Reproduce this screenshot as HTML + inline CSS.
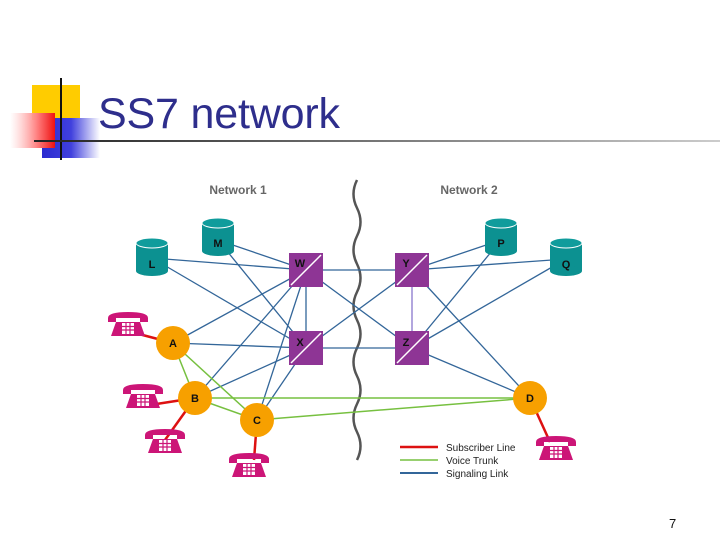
<!DOCTYPE html>
<html><head><meta charset="utf-8"><style>
html,body{margin:0;padding:0;background:#fff;width:720px;height:540px;overflow:hidden}
</style></head><body>
<svg width="720" height="540" xmlns="http://www.w3.org/2000/svg" font-family="Liberation Sans, sans-serif">
<defs>
<linearGradient id="red" x1="0" x2="1"><stop offset="0" stop-color="#fff" stop-opacity="0.6"/><stop offset="0.6" stop-color="#ff8080"/><stop offset="1" stop-color="#ee1111"/></linearGradient>
<linearGradient id="blue" x1="0" x2="1"><stop offset="0" stop-color="#2b2bd0"/><stop offset="0.5" stop-color="#4040dd"/><stop offset="1" stop-color="#fff"/></linearGradient>
<linearGradient id="hl" x1="0" x2="1"><stop offset="0" stop-color="#222"/><stop offset="1" stop-color="#ccc"/></linearGradient>
<g id="ph">
<path d="M-20,-8 Q-20,-14 0,-14 Q20,-14 20,-8 L20,-4 L12,-4 L12,-8 L-12,-8 L-12,-4 L-20,-4 Z" fill="#cc1577"/>
<path d="M-12,-4 L12,-4 L17,10 L-17,10 Z" fill="#cc1577"/>
<rect x="-6" y="-3" width="12" height="11" fill="#fff"/>
<path d="M-6,0.5H6M-6,4H6M-2,-3V8M2,-3V8" stroke="#cc1577" stroke-width="1.2"/>
</g>
<g id="cyl">
<rect x="-16" y="-14" width="32" height="28" fill="#0c9191"/>
<ellipse cx="0" cy="14" rx="16" ry="5" fill="#0c9191"/>
<ellipse cx="0" cy="-14" rx="16" ry="5" fill="#109c9c" stroke="#fff" stroke-width="1"/>
</g>
<g id="sq">
<rect x="-17" y="-17" width="34" height="34" fill="#8e3595"/>
<line x1="-15" y1="15" x2="15" y2="-15" stroke="#fff" stroke-width="1.5"/>
</g>
</defs>
<rect x="32" y="85" width="48" height="35" fill="#ffcc00"/>
<rect x="42" y="118" width="58" height="40" fill="url(#blue)"/>
<rect x="10" y="113" width="45" height="35" fill="url(#red)"/>
<line x1="61" y1="78" x2="61" y2="160" stroke="#111" stroke-width="2"/>
<rect x="34" y="140" width="686" height="2" fill="url(#hl)"/>
<text x="98" y="128" font-size="43" fill="#2e2e8c" textLength="242">SS7 network</text>

<text x="238" y="194" font-size="12" font-weight="bold" fill="#666" text-anchor="middle">Network 1</text>
<text x="469" y="194" font-size="12" font-weight="bold" fill="#666" text-anchor="middle">Network 2</text>
<path d="M357,180 q-7,14 0,28 q7,14 0,28 q-7,14 0,28 q7,14 0,28 q-7,14 0,28 q7,14 0,28 q-7,14 0,28 q7,14 0,28 q-7,14 0,28 q7,14 0,28" fill="none" stroke="#555" stroke-width="2.5"/>

<g stroke="#336699" stroke-width="1.3" fill="none">
<line x1="152" y1="258" x2="306" y2="270"/><line x1="152" y1="258" x2="306" y2="348"/>
<line x1="218" y1="240" x2="306" y2="270"/><line x1="218" y1="240" x2="306" y2="348"/>
<line x1="173" y1="343" x2="306" y2="270"/><line x1="173" y1="343" x2="306" y2="348"/>
<line x1="195" y1="398" x2="306" y2="270"/><line x1="195" y1="398" x2="306" y2="348"/>
<line x1="257" y1="420" x2="306" y2="270"/><line x1="257" y1="420" x2="306" y2="348"/>
<line x1="306" y1="270" x2="306" y2="348"/>
<line x1="306" y1="270" x2="412" y2="270"/><line x1="306" y1="270" x2="412" y2="348"/>
<line x1="306" y1="348" x2="412" y2="270"/><line x1="306" y1="348" x2="412" y2="348"/>
<line x1="412" y1="270" x2="501" y2="240"/><line x1="412" y1="270" x2="566" y2="259"/><line x1="412" y1="270" x2="530" y2="398"/>
<line x1="412" y1="348" x2="501" y2="240"/><line x1="412" y1="348" x2="566" y2="259"/><line x1="412" y1="348" x2="530" y2="398"/>
</g>
<line x1="412" y1="270" x2="412" y2="348" stroke="#8877cc" stroke-width="1.3"/>
<g stroke="#77c040" stroke-width="1.5">
<line x1="173" y1="343" x2="195" y2="398"/><line x1="173" y1="343" x2="257" y2="420"/>
<line x1="195" y1="398" x2="257" y2="420"/><line x1="195" y1="398" x2="530" y2="398"/><line x1="257" y1="420" x2="530" y2="398"/>
</g>
<g stroke="#dd1111" stroke-width="2.5">
<line x1="135" y1="333" x2="173" y2="343"/><line x1="150" y1="405" x2="195" y2="398"/>
<line x1="165" y1="440" x2="195" y2="398"/><line x1="254" y1="460" x2="257" y2="420"/>
<line x1="550" y1="442" x2="530" y2="398"/>
</g>
<use href="#cyl" x="152" y="257"/><use href="#cyl" x="218" y="237"/>
<use href="#cyl" x="501" y="237"/><use href="#cyl" x="566" y="257"/>
<use href="#sq" x="306" y="270"/><use href="#sq" x="306" y="348"/>
<use href="#sq" x="412" y="270"/><use href="#sq" x="412" y="348"/>
<g fill="#f7a000"><circle cx="173" cy="343" r="17"/><circle cx="195" cy="398" r="17"/><circle cx="257" cy="420" r="17"/><circle cx="530" cy="398" r="17"/></g>
<use href="#ph" x="128" y="326"/><use href="#ph" x="143" y="398"/><use href="#ph" x="165" y="443"/>
<use href="#ph" x="249" y="467"/><use href="#ph" x="556" y="450"/>
<g font-size="11" font-weight="bold" fill="#111" text-anchor="middle">
<text x="152" y="268">L</text><text x="218" y="247">M</text><text x="501" y="247">P</text><text x="566" y="268">Q</text>
<text x="300" y="267">W</text><text x="300" y="346">X</text><text x="406" y="267">Y</text><text x="406" y="346">Z</text>
<text x="173" y="347">A</text><text x="195" y="402">B</text><text x="257" y="424">C</text><text x="530" y="402">D</text>
</g>
<line x1="400" y1="447" x2="438" y2="447" stroke="#dd1111" stroke-width="2.5"/>
<line x1="400" y1="460" x2="438" y2="460" stroke="#77c040" stroke-width="1.5"/>
<line x1="400" y1="473" x2="438" y2="473" stroke="#336699" stroke-width="2"/>
<g font-size="10" fill="#222"><text x="446" y="451">Subscriber Line</text><text x="446" y="464">Voice Trunk</text><text x="446" y="477">Signaling Link</text></g>
<text x="669" y="528" font-size="13" fill="#111">7</text>
</svg>
</body></html>
